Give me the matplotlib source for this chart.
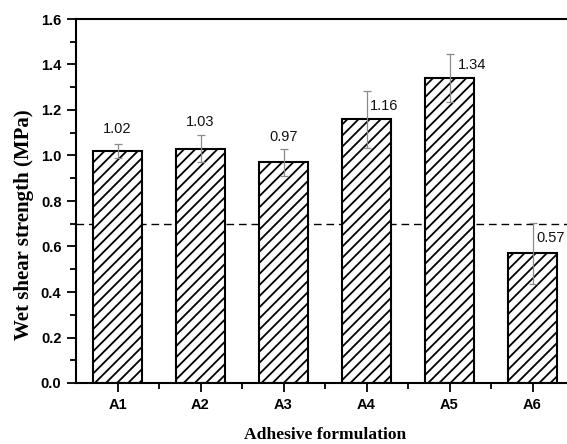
import matplotlib
matplotlib.use("Agg")
import matplotlib.pyplot as plt
from matplotlib.ticker import MultipleLocator, FixedLocator, FormatStrFormatter

categories = ["A1", "A2", "A3", "A4", "A5", "A6"]
values = [1.02, 1.03, 0.97, 1.16, 1.34, 0.57]
errors = [0.03, 0.06, 0.06, 0.125, 0.105, 0.135]
threshold = 0.7

# label placement (style)
label_dx = [0, 0, 0, 0.21, 0.27, 0.22]
label_y = [1.118, 1.147, 1.08, 1.217, 1.40, 0.637]

plt.rcParams['hatch.linewidth'] = 1.3
fig = plt.figure(figsize=(5.67, 4.44), dpi=100)
ax = fig.add_axes([76/567, 1-383/444, (574-76)/567, (383-19)/444])

x = list(range(1, len(categories) + 1))
ax.bar(x, values, width=0.6, color="white", edgecolor="black", linewidth=1.5, hatch="///", zorder=2)
ax.errorbar(x, values, yerr=errors, fmt="none", ecolor="#8a8a8a", elinewidth=0.9, capsize=3, capthick=0.9, zorder=3)
ax.axhline(threshold, color="black", linestyle=(0, (5.5, 3.5)), linewidth=1.0, zorder=1)

for xi, v, dx, ly in zip(x, values, label_dx, label_y):
    ax.text(xi + dx, ly, f"{v:.2f}", ha="center", va="center", fontsize=10.5,
            family="Liberation Sans", color="#111111")

ax.set_xlim(0.5, 6.5)
ax.set_ylim(0, 1.6)
ax.set_xticks(x)
ax.set_xticklabels(categories)
ax.xaxis.set_minor_locator(FixedLocator([i + 0.5 for i in range(1, 6)]))
ax.yaxis.set_major_locator(MultipleLocator(0.2))
ax.yaxis.set_minor_locator(MultipleLocator(0.1))
ax.yaxis.set_major_formatter(FormatStrFormatter("%.1f"))

for lbl in ax.get_xticklabels() + ax.get_yticklabels():
    lbl.set_fontfamily("Liberation Sans")
    lbl.set_fontweight("bold")
    lbl.set_fontsize(10.5)

ax.tick_params(which="major", direction="out", length=6.5, width=1.3, pad=4)
ax.tick_params(which="minor", direction="out", length=4, width=1.3)
for s in ax.spines.values():
    s.set_linewidth(1.5)

ax.set_xlabel("Adhesive formulation", family="Liberation Serif", fontweight="bold", fontsize=12.6)
ax.set_ylabel("Wet shear strength (MPa)", family="Liberation Serif", fontweight="bold", fontsize=15)
# position labels as in the reference (pixel-based)
ax.xaxis.set_label_coords((325-76)/(574-76), -(435-383)/(383-19), transform=ax.transAxes)
ax.yaxis.set_label_coords(-(76-24)/(574-76), (383-225)/(383-19), transform=ax.transAxes)
ax.xaxis.label.set_va("center")
ax.yaxis.label.set_va("center")

fig.savefig("out.png", dpi=100)
